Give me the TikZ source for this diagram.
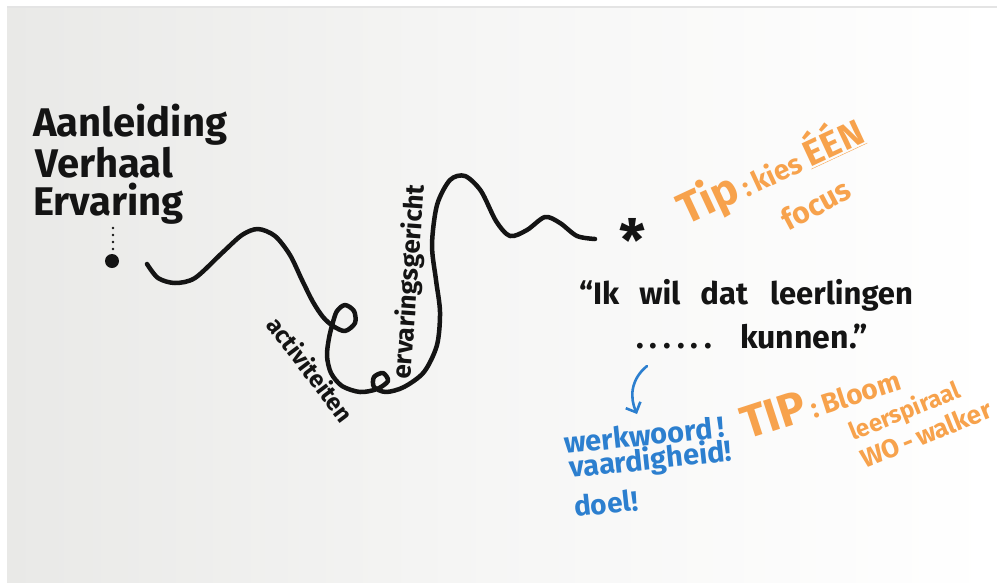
\documentclass[tikz,border=0pt]{standalone}
\usepackage{fontspec}
\setmainfont{Fira Sans}
\usetikzlibrary{arrows.meta}
\definecolor{ink}{HTML}{141414}
\definecolor{mkorange}{HTML}{F7A24C}
\definecolor{mkblue}{HTML}{2C7FCF}
\definecolor{paperL}{HTML}{E9E9E7}
\definecolor{paperR}{HTML}{FFFFFF}
\definecolor{edge}{HTML}{E4E4E4}
\newcommand{\fsz}[1]{\fontsize{#1}{#1}\selectfont}
\tikzset{
  hand/.style={inner sep=0pt, font=\bfseries, text=ink},
  wave/.style={draw=ink, line width=4.5pt, line cap=round, line join=round},
  orng/.style={inner sep=0pt, font=\bfseries, text=mkorange},
  blu/.style={inner sep=0pt, font=\bfseries, text=mkblue},
}
\begin{document}
\begin{tikzpicture}[x=1pt,y=-1pt]
\useasboundingbox (0,0) rectangle (998,582);
\fill[white] (0,0) rectangle (998,582);
\shade[left color=paperL, right color=paperR, middle color=paperR!60!paperL] (7,8) rectangle (996,582);
\fill[edge] (7,6) rectangle (997,8);

% left labels
\node[hand, anchor=base west] (aan) at (33,136) {\fsz{40}Aanleiding};
\node[hand, anchor=base west] (ver) at (35,177) {\fsz{40}Verhaal};
\node[hand, anchor=base west] (erv) at (33,215) {\fsz{40}Ervaring};
\foreach \yy in {228,235,242,249} \fill[ink] (113,\yy) circle (1.4);
\fill[ink] (112,261) circle (7);
\coordinate (start) at (112,261);

% wave
\draw[wave] plot[smooth, tension=0.5] coordinates {
 (147,264) (158,278) (175,283) (195,278) (222,253) (242,235) (258,229)
 (275,236) (290,255) (302,280) (313,302) (323,317) (333,326) (345,331)
 (355,323) (354,311) (345,305) (337,311) (333,322) (329,338) (327,356)
 (331,373) (342,386) (360,392) (377,389) (388,381) (383,373) (374,377)
 (374,387) (386,392) (404,387) (424,372) (437,345) (440,312) (436,280)
 (432,245) (437,205) (450,180) (465,176) (481,191) (496,221) (510,236)
 (527,230) (545,217) (560,223) (577,236) (595,239)};
\coordinate (wend) at (595,239);

% curve texts
\node[hand, rotate=-53] (act) at (311,369) {\fsz{24}activiteiten};
\node[hand, rotate=86] (ervg) at (410,282) {\fsz{26}ervaringsgericht};

% asterisk
\node[hand] (star) at (633,240) {\fsz{58}*};

% tip 1
\node[orng, anchor=base west, rotate=25] (tip1) at (686,226)
  {\fsz{44}Tip\fsz{28}\,:\,kies \fsz{36}\underline{ÉÉN}};
\node[orng, rotate=28] (focus) at (816,204) {\fsz{30}focus};

% quote
\node[hand, anchor=base west] (q1) at (579,304)
  {\fsz{31}“Ik\hspace{20pt}wil\hspace{20pt}dat\hspace{22pt}leerlingen};
\node[hand, anchor=base west] (q2) at (636,348)
  {\fsz{32}.\hspace{6pt}.\hspace{6pt}.\hspace{6pt}.\hspace{6pt}.\hspace{6pt}.\hspace{28pt}kunnen.”};

% blue arrow and text
\coordinate (ba) at (647,366);
\coordinate (bb) at (637,414);
\draw[mkblue, line width=2.6pt, line cap=round, -{Straight Barb[length=8pt,width=16pt]}]
  (ba) .. controls (630,380) and (630,398) .. (bb);
\node[blu, anchor=base west, rotate=6] (w1) at (565,454) {\fsz{29}werkwoord\,!};
\node[blu, anchor=base west, rotate=6] (w2) at (570,478) {\fsz{29}vaardigheid!};
\node[blu, anchor=base west, rotate=6] (w3) at (575,517) {\fsz{28}doel!};

% tip 2
\node[orng, anchor=base west, rotate=18] (tip2) at (747,440)
  {\fsz{46}TIP\fsz{28}\,:\,Bloom};
\node[orng, anchor=base west, rotate=22] (leer) at (853,441) {\fsz{24}leerspiraal};
\node[orng, anchor=base west, rotate=22] (wo) at (865,469) {\fsz{26}WO\,-\,walker};
\end{tikzpicture}
\end{document}
